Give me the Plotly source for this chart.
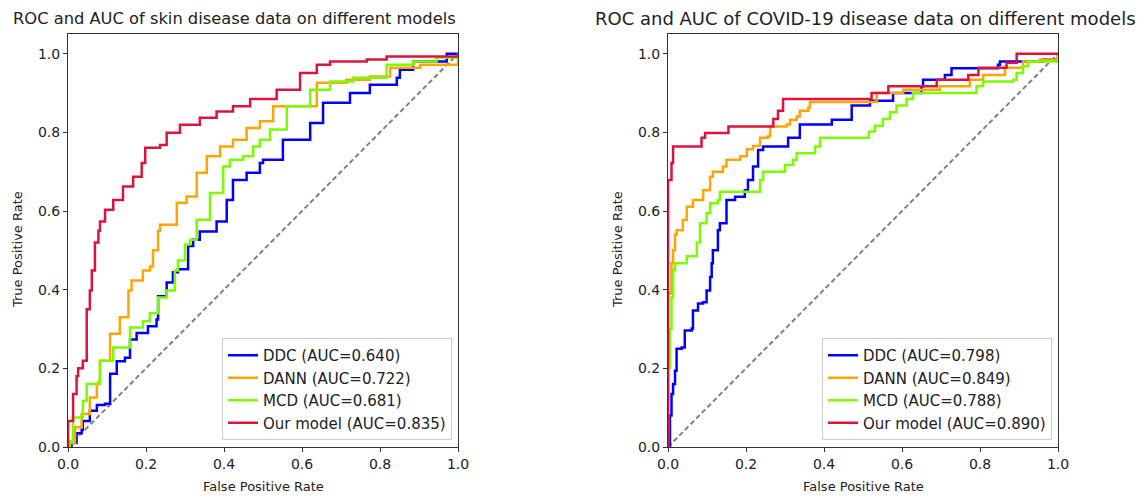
import plotly.graph_objects as go

# ---------------- data: skin disease ----------------
skin_ddc_fpr = [0, 0.009, 0.022, 0.035, 0.038, 0.056, 0.074, 0.095, 0.108, 0.125, 0.146, 0.159, 0.176, 0.205, 0.227, 0.231,
                0.253, 0.269, 0.282, 0.304, 0.308, 0.321, 0.338, 0.381, 0.407, 0.423, 0.458, 0.492, 0.5, 0.551, 0.621, 0.654,
                0.723, 0.774, 0.843, 0.851, 0.885, 0.971, 1.0]
skin_ddc_tpr = [0, 0.01, 0.035, 0.043, 0.066, 0.092, 0.107, 0.11, 0.186, 0.218, 0.227, 0.273, 0.29, 0.307, 0.324, 0.383,
                0.418, 0.444, 0.452, 0.452, 0.511, 0.527, 0.548, 0.573, 0.628, 0.679, 0.697, 0.722, 0.73, 0.781, 0.824, 0.875,
                0.9, 0.921, 0.939, 0.959, 0.98, 1.0, 1.0]

skin_dann_fpr = [0, 0, 0.018, 0.035, 0.056, 0.074, 0.082, 0.108, 0.133, 0.155, 0.163, 0.192, 0.21, 0.218, 0.231, 0.236,
                 0.279, 0.304, 0.33, 0.356, 0.39, 0.423, 0.458, 0.492, 0.526, 0.638, 0.714, 0.774, 0.826, 0.903, 1.0]
skin_dann_tpr = [0, 0.01, 0.05, 0.084, 0.126, 0.16, 0.219, 0.288, 0.33, 0.398, 0.423, 0.449, 0.459, 0.5, 0.55, 0.565,
                 0.621, 0.637, 0.697, 0.739, 0.764, 0.781, 0.811, 0.828, 0.866, 0.926, 0.934, 0.942, 0.964, 0.972, 1.0]

skin_mcd_fpr = [0, 0.005, 0.013, 0.038, 0.048, 0.078, 0.082, 0.116, 0.159, 0.192, 0.21, 0.231, 0.253, 0.274, 0.282, 0.3,
                0.313, 0.33, 0.364, 0.398, 0.415, 0.449, 0.475, 0.492, 0.518, 0.561, 0.621, 0.672, 0.731, 0.817, 0.885,
                0.945, 1.0]
skin_mcd_tpr = [0, 0.015, 0.075, 0.117, 0.16, 0.165, 0.219, 0.253, 0.304, 0.32, 0.34, 0.38, 0.398, 0.449, 0.474, 0.515,
                0.527, 0.578, 0.646, 0.713, 0.73, 0.739, 0.764, 0.781, 0.807, 0.866, 0.908, 0.929, 0.939, 0.972, 0.98,
                0.99, 1.0]

skin_our_fpr = [0, 0, 0, 0.013, 0.022, 0.026, 0.038, 0.048, 0.056, 0.061, 0.069, 0.078, 0.082, 0.095, 0.116, 0.141, 0.167,
                0.189, 0.198, 0.236, 0.253, 0.287, 0.338, 0.381, 0.423, 0.467, 0.535, 0.595, 0.638, 0.672, 0.766, 0.817, 1.0]
skin_our_tpr = [0, 0.01, 0.066, 0.135, 0.18, 0.2, 0.219, 0.35, 0.398, 0.449, 0.52, 0.55, 0.573, 0.603, 0.628, 0.662, 0.687,
                0.722, 0.761, 0.768, 0.799, 0.819, 0.837, 0.853, 0.866, 0.885, 0.908, 0.951, 0.972, 0.98, 0.985, 0.993, 1.0]

# ---------------- data: COVID-19 ----------------
cov_ddc_fpr = [0, 0.005, 0.009, 0.013, 0.018, 0.022, 0.035, 0.043, 0.061, 0.064, 0.077, 0.09, 0.099, 0.108, 0.112, 0.115,
               0.128, 0.133, 0.15, 0.172, 0.197, 0.205, 0.218, 0.231, 0.244, 0.304, 0.308, 0.338, 0.338, 0.415, 0.42,
               0.467, 0.471, 0.518, 0.518, 0.577, 0.577, 0.621, 0.65, 0.654, 0.689, 0.71, 0.727, 0.787, 0.846, 0.851,
               0.962, 1.0, 1.0]
cov_ddc_tpr = [0, 0.08, 0.135, 0.16, 0.194, 0.25, 0.253, 0.296, 0.301, 0.347, 0.365, 0.368, 0.398, 0.432, 0.467, 0.5,
               0.551, 0.569, 0.628, 0.636, 0.653, 0.679, 0.713, 0.755, 0.764, 0.764, 0.786, 0.807, 0.82, 0.82, 0.832,
               0.832, 0.868, 0.868, 0.88, 0.88, 0.9, 0.9, 0.917, 0.934, 0.934, 0.946, 0.963, 0.963, 0.972, 0.98,
               0.985, 0.987, 1.0]

cov_dann_fpr = [0, 0, 0.009, 0.013, 0.018, 0.022, 0.038, 0.048, 0.064, 0.09, 0.108, 0.115, 0.141, 0.15, 0.185, 0.202,
                0.218, 0.236, 0.256, 0.262, 0.304, 0.313, 0.33, 0.338, 0.36, 0.364, 0.535, 0.603, 0.697, 0.774, 0.808,
                0.864, 0.91, 0.954, 1.0]
cov_dann_tpr = [0, 0.39, 0.467, 0.5, 0.54, 0.551, 0.577, 0.611, 0.628, 0.653, 0.687, 0.7, 0.713, 0.73, 0.739, 0.757,
                0.765, 0.786, 0.79, 0.815, 0.82, 0.832, 0.84, 0.855, 0.863, 0.877, 0.9, 0.908, 0.917, 0.934, 0.946,
                0.964, 0.98, 0.985, 1.0]

cov_mcd_fpr = [0, 0, 0.005, 0.009, 0.013, 0.018, 0.043, 0.048, 0.064, 0.074, 0.082, 0.099, 0.108, 0.128, 0.133, 0.227,
               0.236, 0.244, 0.295, 0.3, 0.321, 0.33, 0.377, 0.39, 0.513, 0.515, 0.531, 0.551, 0.569, 0.586, 0.612,
               0.628, 0.782, 0.791, 0.808, 0.885, 0.894, 0.91, 0.923, 1.0]
cov_mcd_tpr = [0, 0.2, 0.3, 0.38, 0.45, 0.467, 0.467, 0.485, 0.485, 0.52, 0.569, 0.594, 0.62, 0.628, 0.649, 0.649,
               0.679, 0.7, 0.7, 0.717, 0.73, 0.747, 0.764, 0.786, 0.786, 0.802, 0.817, 0.834, 0.851, 0.868, 0.885,
               0.9, 0.9, 0.917, 0.929, 0.934, 0.951, 0.968, 0.98, 1.0]

cov_our_fpr = [0, 0, 0.009, 0.013, 0.082, 0.086, 0.095, 0.15, 0.155, 0.266, 0.27, 0.282, 0.295, 0.522, 0.565, 0.689,
               0.77, 0.796, 0.868, 0.894, 1.0]
cov_our_tpr = [0, 0.679, 0.722, 0.764, 0.764, 0.786, 0.798, 0.798, 0.815, 0.815, 0.834, 0.855, 0.885, 0.9, 0.917, 0.934,
               0.946, 0.964, 0.977, 1.0, 1.0]

model_names = ["DDC", "DANN", "MCD", "Our model"]
skin_auc = ["0.640", "0.722", "0.681", "0.835"]
cov_auc = ["0.798", "0.849", "0.788", "0.890"]
colors = ["#0000ff", "#ffa500", "#7cfc00", "#dc143c"]
ticks = [0.0, 0.2, 0.4, 0.6, 0.8, 1.0]
tick_text = ["0.0", "0.2", "0.4", "0.6", "0.8", "1.0"]
titles = ["ROC and AUC of skin disease data on different models",
          "ROC and AUC of COVID-19 disease data on different models"]

W, H = 1148, 497
FONT = "DejaVu Sans"

fig = go.Figure()

skin = [(skin_ddc_fpr, skin_ddc_tpr), (skin_dann_fpr, skin_dann_tpr), (skin_mcd_fpr, skin_mcd_tpr), (skin_our_fpr, skin_our_tpr)]
cov = [(cov_ddc_fpr, cov_ddc_tpr), (cov_dann_fpr, cov_dann_tpr), (cov_mcd_fpr, cov_mcd_tpr), (cov_our_fpr, cov_our_tpr)]

for panel, (data, aucs, xa, ya, lg) in enumerate([(skin, skin_auc, "x", "y", "legend"),
                                                   (cov, cov_auc, "x2", "y2", "legend2")]):
    fig.add_trace(go.Scatter(x=[0, 1], y=[0, 1], mode="lines", xaxis=xa, yaxis=ya, showlegend=False,
                             line=dict(color="#808080", width=2, dash="5px,3px"), hoverinfo="skip"))
    for i, (fx, ty) in enumerate(data):
        fig.add_trace(go.Scatter(x=fx, y=ty, mode="lines", xaxis=xa, yaxis=ya, legend=lg,
                                 name=f"{model_names[i]} (AUC={aucs[i]})",
                                 line=dict(color=colors[i], width=2.5, shape="hv")))

ax_common = dict(showline=True, mirror=True, linecolor="#333333", linewidth=1, ticks="outside", ticklen=4,
                 tickwidth=1, tickcolor="#333333", showgrid=False, zeroline=False, tickvals=ticks, ticktext=tick_text,
                 tickfont=dict(family=FONT, size=14, color="#222222"), automargin=False)

yb, yt = 1 - 447 / H, 1 - 34 / H
leg_common = dict(xanchor="right", yanchor="bottom", bgcolor="white", bordercolor="#cccccc", borderwidth=1,
                  font=dict(family=FONT, size=15, color="#222222"), itemwidth=30, tracegroupgap=0)
fig.update_layout(
    width=W, height=H, margin=dict(l=0, r=0, t=0, b=0, autoexpand=False),
    paper_bgcolor="white", plot_bgcolor="white",
    xaxis=dict(domain=[68 / W, 458 / W], range=[0, 1], anchor="y", **ax_common),
    yaxis=dict(domain=[yb, yt], range=[0, 1.05], anchor="x", **ax_common),
    xaxis2=dict(domain=[668 / W, 1058 / W], range=[0, 1], anchor="y2", **ax_common),
    yaxis2=dict(domain=[yb, yt], range=[0, 1.05], anchor="x2", **ax_common),
    legend=dict(x=452 / W, y=1 - 440 / H, **leg_common),
    legend2=dict(x=1052 / W, y=1 - 440 / H, **leg_common),
    showlegend=True,
)

annots = [
    dict(text=titles[0], x=234 / W, y=1 - 18 / H, font=dict(size=16.3)),
    dict(text=titles[1], x=865 / W, y=1 - 18 / H, font=dict(size=18)),
    dict(text="False Positive Rate", x=263 / W, y=1 - 486 / H, font=dict(size=13)),
    dict(text="False Positive Rate", x=863 / W, y=1 - 486 / H, font=dict(size=13)),
    dict(text="True Positive Rate", x=18 / W, y=1 - 250 / H, font=dict(size=13), textangle=-90),
    dict(text="True Positive Rate", x=618 / W, y=1 - 250 / H, font=dict(size=13), textangle=-90),
]
for a in annots:
    a["font"]["family"] = FONT
    a["font"]["color"] = "#222222"
    fig.add_annotation(xref="paper", yref="paper", xanchor="center", yanchor="middle", showarrow=False, **a)

fig.write_html("out.html", config={"displayModeBar": False},
               post_script="document.body.style.margin='0';document.body.style.padding='0';"
                           "document.documentElement.style.overflow='hidden';")
